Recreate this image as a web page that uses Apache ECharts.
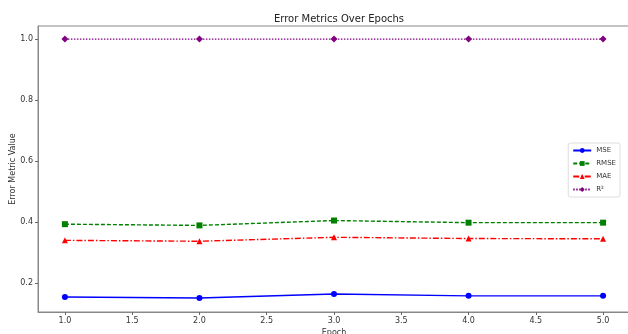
<!DOCTYPE html>
<html><head><meta charset="utf-8">
<script src="https://cdn.jsdelivr.net/npm/echarts@6/dist/echarts.min.js"></script>
<style>html,body{margin:0;padding:0;background:#fff}#c{width:628px;height:334px}</style>
</head><body><div id="c"></div>
<script>
const epochs = [1, 2, 3, 4, 5];
const mse = [0.154, 0.151, 0.164, 0.158, 0.158];
const rmse = [0.393, 0.389, 0.405, 0.398, 0.398];
const mae = [0.340, 0.337, 0.350, 0.346, 0.345];
const r2 = [1.0, 1.0, 1.0, 1.0, 1.0];
const xTicks = [1.0, 1.5, 2.0, 2.5, 3.0, 3.5, 4.0, 4.5, 5.0];
const yTicks = [0.2, 0.4, 0.6, 0.8, 1.0];

const pair = arr => epochs.map((e, i) => [e, arr[i]]);
const font = 'DejaVu Sans';
const chart = echarts.init(document.getElementById('c'));
function mk(name, data, color, symbol, dash, size) {
  return {
    name, type: 'line', data: pair(data), symbol, symbolSize: size,
    lineStyle: { color, width: 1.4, type: dash },
    itemStyle: { color }, emphasis: { disabled: true }, animation: false
  };
}
chart.setOption({
  animation: false,
  title: { text: 'Error Metrics Over Epochs', left: 334, textAlign: 'center', top: 9,
    textStyle: { fontFamily: font, fontSize: 10, fontWeight: 'normal', color: '#222' } },
  grid: { left: 38, top: 26, width: 592, height: 286, show: true, borderColor: '#888', borderWidth: 1,
    containLabel: false, outerBoundsMode: 'none' },
  xAxis: {
    type: 'value', min: 0.8, max: 5.2, name: 'Epoch', nameLocation: 'middle', nameGap: 17, nameMoveOverlap: false,
    nameTextStyle: { fontFamily: font, fontSize: 8, color: '#333' },
    axisLine: { show: true, lineStyle: { color: '#888' } },
    axisTick: { show: true, customValues: xTicks, length: 3, lineStyle: { color: '#666' } },
    axisLabel: { customValues: xTicks, formatter: v => v.toFixed(1), fontFamily: font, fontSize: 8, color: '#333', margin: 5 },
    splitLine: { show: false }
  },
  yAxis: {
    type: 'value', min: 0.105, max: 1.043, name: 'Error Metric Value', nameLocation: 'middle', nameGap: 21, nameMoveOverlap: false,
    nameTextStyle: { fontFamily: font, fontSize: 8, color: '#333' },
    axisLine: { show: true, lineStyle: { color: '#888' } },
    axisTick: { show: true, customValues: yTicks, length: 3, lineStyle: { color: '#666' } },
    axisLabel: { customValues: yTicks, formatter: v => v.toFixed(1), fontFamily: font, fontSize: 8, color: '#333', margin: 5 },
    splitLine: { show: false }
  },
  legend: {
    orient: 'vertical', right: 8, top: 143, itemWidth: 18, itemHeight: 6, itemGap: 6,
    backgroundColor: '#fff', borderColor: '#ddd', borderWidth: 1, borderRadius: 2, padding: [4, 4],
    textStyle: { fontFamily: font, fontSize: 7, color: '#333' },
    data: ['MSE', 'RMSE', 'MAE', 'R²']
  },
  series: [
    mk('MSE', mse, '#0000ff', 'circle', 'solid', 6),
    mk('RMSE', rmse, '#008000', 'rect', [4, 2], 6),
    mk('MAE', mae, '#ff0000', 'triangle', [6, 2, 1.5, 2], 6),
    mk('R²', r2, '#800080', 'diamond', [1.5, 1.5], 7)
  ]
});
</script></body></html>
